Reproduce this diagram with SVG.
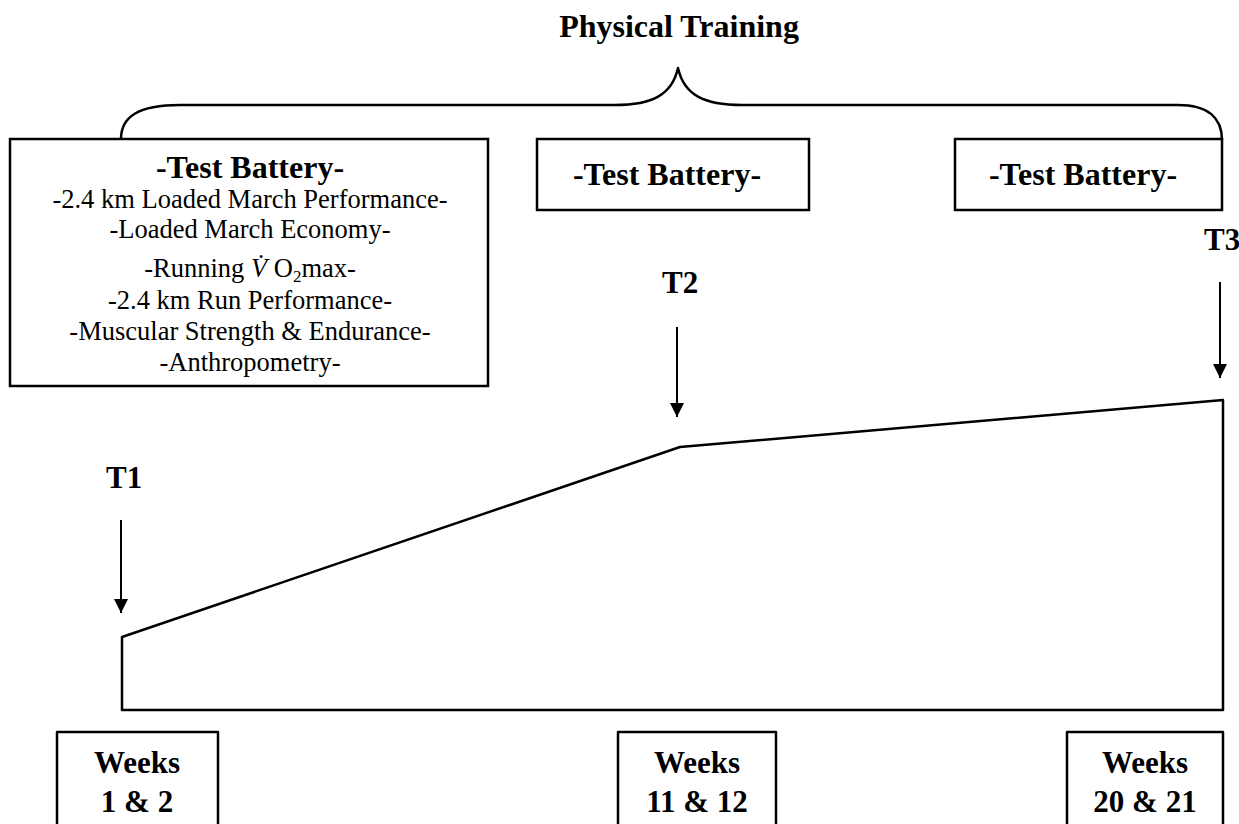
<svg xmlns="http://www.w3.org/2000/svg" width="1239" height="824" viewBox="0 0 1239 824">
<defs>
<style>
.box{fill:#fff;stroke:#000;stroke-width:2.5}
.ln{fill:none;stroke:#000;stroke-width:2.5;stroke-linejoin:round}
.arr{fill:none;stroke:#000;stroke-width:2}
.b{font-family:"Liberation Serif","Times New Roman",serif;font-weight:bold;font-size:31px;fill:#000}
.h{font-size:32px}
.r{font-family:"Liberation Serif","Times New Roman",serif;font-size:26.5px;fill:#000;text-anchor:middle}
.c{text-anchor:middle}
</style>
<marker id="ah" viewBox="0 0 14 14" refX="14" refY="7" markerWidth="14" markerHeight="14" markerUnits="userSpaceOnUse" orient="auto">
<path d="M0,0 L14,7 L0,14 Z" fill="#000"/>
</marker>
</defs>
<rect width="1239" height="824" fill="#fff"/>
<g id="title"><text class="b h c" x="679" y="37">Physical Training</text></g>
<g id="connectors">
<path id="brace" class="ln" d="M121,139 C121,117 138,105 180,105 L615,105 C652,105 672,95 678,68 C684,95 704,105 742,105 L1178,105 C1208,105 1222,118 1222,140"/>
<line class="arr" x1="121" y1="520" x2="121" y2="613" marker-end="url(#ah)"/>
<line class="arr" x1="677" y1="327" x2="677" y2="417" marker-end="url(#ah)"/>
<line class="arr" x1="1220" y1="282" x2="1220" y2="378" marker-end="url(#ah)"/>
</g>
<g id="battery1">
<rect class="box" x="10" y="139" width="478" height="247"/>
<text class="b h c" x="250" y="178">-Test Battery-</text>
<text class="r" x="250" y="208">-2.4 km Loaded March Performance-</text>
<text class="r" x="250" y="238">-Loaded March Economy-</text>
<text class="r" x="250" y="277">-Running <tspan font-style="italic">V̇</tspan> O<tspan font-size="17" dy="5">2</tspan><tspan dy="-5">max-</tspan></text>
<text class="r" x="250" y="309">-2.4 km Run Performance-</text>
<text class="r" x="250" y="340">-Muscular Strength &amp; Endurance-</text>
<text class="r" x="250" y="371">-Anthropometry-</text>
</g>
<g id="battery2">
<rect class="box" x="537" y="139" width="272" height="71"/>
<text class="b h c" x="667" y="185">-Test Battery-</text>
</g>
<g id="battery3">
<rect class="box" x="955" y="139" width="267" height="71"/>
<text class="b h c" x="1083" y="185">-Test Battery-</text>
</g>
<g id="T1"><text class="b" x="106" y="488">T1</text></g>
<g id="T2"><text class="b" x="662" y="293">T2</text></g>
<g id="T3"><text class="b" x="1204" y="250">T3</text></g>
<g id="training-curve">
<path class="ln" d="M122,710 L122,637 L680,447 L1223,400 L1223,710 Z"/>
</g>
<g id="weeks1">
<path class="ln" d="M57,830 L57,732 L218,732 L218,830"/>
<text class="b c" x="137" y="773">Weeks</text>
<text class="b c" x="137" y="812">1 &amp; 2</text>
</g>
<g id="weeks2">
<path class="ln" d="M618,830 L618,732 L776,732 L776,830"/>
<text class="b c" x="697" y="773">Weeks</text>
<text class="b c" x="697" y="812">11 &amp; 12</text>
</g>
<g id="weeks3">
<path class="ln" d="M1067,830 L1067,732 L1223,732 L1223,830"/>
<text class="b c" x="1145" y="773">Weeks</text>
<text class="b c" x="1145" y="812">20 &amp; 21</text>
</g>
</svg>
